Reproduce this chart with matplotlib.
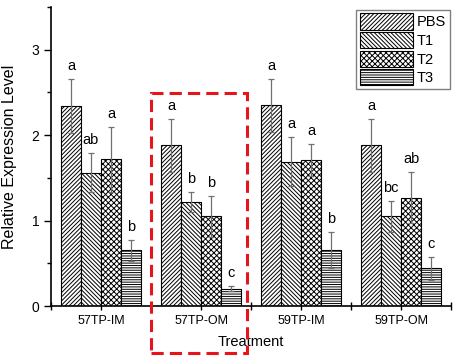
import numpy as np
import matplotlib
matplotlib.use("Agg")
import matplotlib.pyplot as plt
from matplotlib.patches import Rectangle

plt.rcParams['font.family'] = ['Liberation Sans', 'DejaVu Sans']
plt.rcParams['hatch.linewidth'] = 0.7
plt.rcParams['hatch.color'] = '#303030'

# data
groups = ["57TP-IM", "57TP-OM", "59TP-IM", "59TP-OM"]
series = ["PBS", "T1", "T2", "T3"]
values = {
    "PBS": [2.34, 1.88, 2.35, 1.88],
    "T1": [1.56, 1.22, 1.69, 1.05],
    "T2": [1.72, 1.05, 1.71, 1.27],
    "T3": [0.65, 0.20, 0.66, 0.44],
}
errors = {
    "PBS": [0.32, 0.31, 0.31, 0.31],
    "T1": [0.23, 0.12, 0.29, 0.18],
    "T2": [0.38, 0.24, 0.19, 0.30],
    "T3": [0.12, 0.03, 0.21, 0.13],
}
letters = {
    "PBS": ["a", "a", "a", "a"],
    "T1": ["ab", "b", "a", "bc"],
    "T2": ["a", "b", "a", "ab"],
    "T3": ["b", "c", "b", "c"],
}
hatches = {"PBS": "////////", "T1": "\\\\\\\\\\\\\\\\", "T2": "xxxxxx", "T3": "-------"}

fig = plt.figure(figsize=(4.59, 3.59), dpi=100)
ax = fig.add_axes([0.111, 0.1476, 0.872, 0.833])

x = np.arange(1, len(groups) + 1)
w = 0.2
for i, s in enumerate(series):
    pos = x + (i - 1.5) * w
    ax.bar(pos, values[s], width=w, color="white", edgecolor="black",
           hatch=hatches[s], linewidth=0.8, label=s, zorder=2)
    ax.errorbar(pos, values[s], yerr=errors[s], fmt="none", ecolor="#707070",
                elinewidth=0.9, capsize=2.5, capthick=0.9, zorder=3)
    for p, v, e, t in zip(pos, values[s], errors[s], letters[s]):
        ax.text(p, v + e + 0.07, t, ha="center", va="bottom", fontsize=10.5)

ax.set_xlim(0.5, 4.5)
ax.set_ylim(0, 3.5)
ax.set_xticks(x)
ax.set_xticklabels(groups, fontsize=9)
ax.set_xticks(np.arange(0.5, 4.6, 1.0), minor=True)
ax.set_yticks([0, 1, 2, 3])
ax.set_yticks(np.arange(0.5, 3.6, 1.0), minor=True)
ax.tick_params(axis="y", labelsize=10, direction="out", length=5, width=1)
ax.tick_params(axis="y", which="minor", direction="out", length=3, width=1)
ax.tick_params(axis="x", which="both", direction="inout", length=6, width=1)
ax.spines["top"].set_visible(False)
ax.spines["right"].set_visible(False)
ax.spines["left"].set_linewidth(1.2)
ax.spines["bottom"].set_linewidth(1.2)

ax.set_xlabel("Treatment", fontsize=10.5, labelpad=6)
ax.set_ylabel("Relative Expression Level", fontsize=11.5, labelpad=10)

leg = ax.legend(loc="upper right", bbox_to_anchor=(1.015, 1.015), fontsize=10.5,
                handlelength=3.6, handleheight=1.35, handletextpad=0.3,
                labelspacing=0.15, borderpad=0.25, fancybox=False,
                edgecolor="#808080", framealpha=1)
leg.get_frame().set_linewidth(1.0)

# red dashed box around 57TP-OM
rect = Rectangle((1.5, -0.55), 0.96, 3.04, fill=False, edgecolor="#e8141c",
                 linestyle=(0, (4, 2)), linewidth=2.2, clip_on=False, zorder=5)
ax.add_patch(rect)

fig.savefig("out.png", dpi=100)
